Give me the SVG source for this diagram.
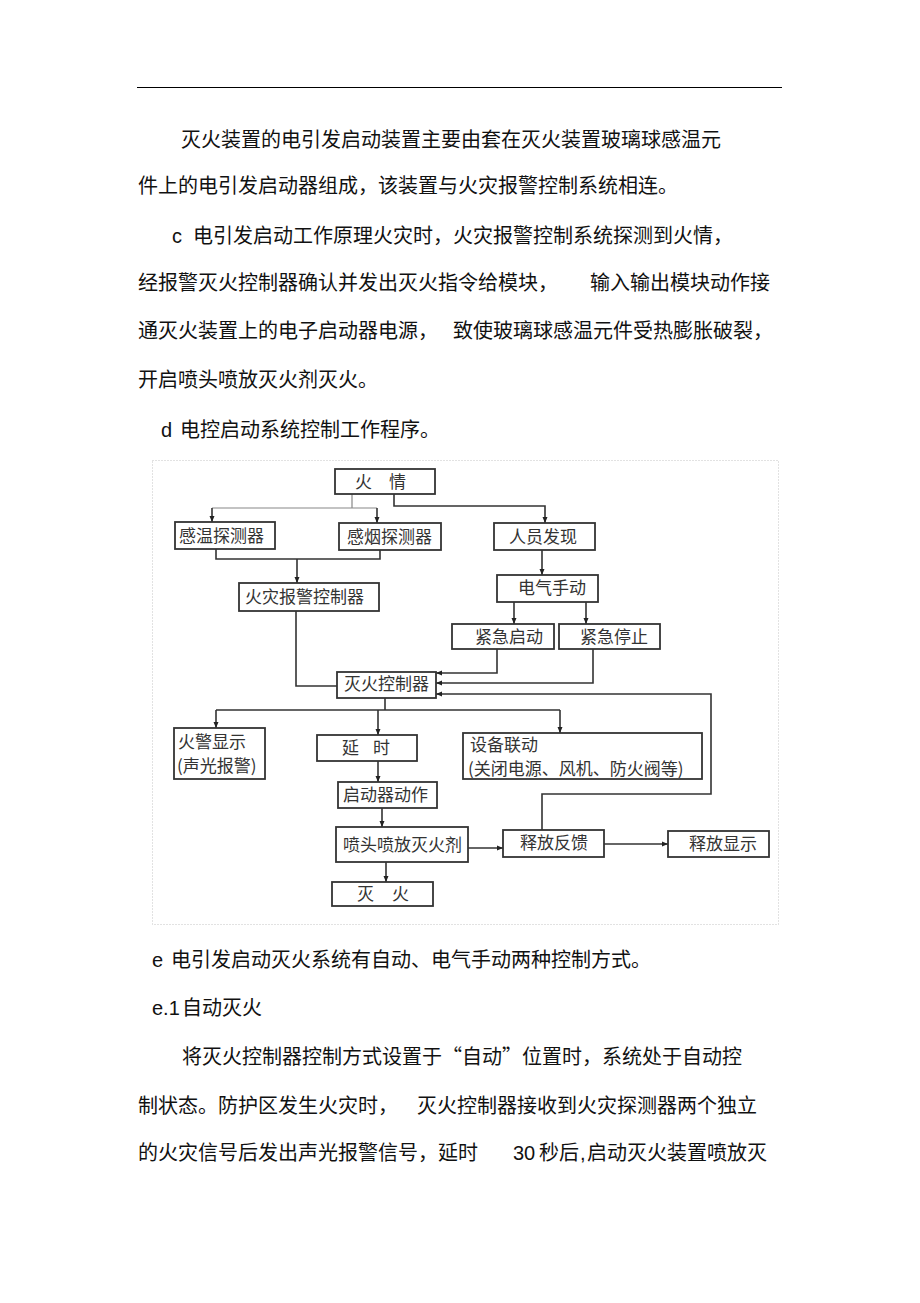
<svg xmlns="http://www.w3.org/2000/svg" width="920" height="1303" viewBox="0 0 920 1303">
<defs>
<style>
.body{font-family:"Noto Sans CJK SC","Liberation Sans",sans-serif;font-size:20px;fill:#111;}
.lat{font-family:"Liberation Sans","Noto Sans CJK SC",sans-serif;font-size:20px;fill:#111;}
.box rect{fill:#fff;stroke:#333;stroke-width:1.8;}
.box text{font-family:"Noto Sans CJK SC",sans-serif;font-size:17px;fill:#333;}
.conn path{fill:none;stroke:#333;stroke-width:1.6;}
.conn path.a{marker-end:url(#arr);}
.conn path.faint{stroke:#888;stroke-width:1.2;}
</style>
<marker id="arr" markerUnits="userSpaceOnUse" markerWidth="6" markerHeight="6" refX="6" refY="3" orient="auto">
<path d="M0,0.5 L6,3 L0,5.5 Z" fill="#222"/>
</marker>
</defs>
<rect width="920" height="1303" fill="#fff"/>
<line x1="137" y1="87.5" x2="782" y2="87.5" stroke="#000" stroke-width="1"/>

<g id="para-top">
<text class="body" x="181" y="147">灭火装置的电引发启动装置主要由套在灭火装置玻璃球感温元</text>
<text class="body" x="138" y="193">件上的电引发启动器组成，该装置与火灾报警控制系统相连。</text>
<text class="lat" x="172" y="243">c</text>
<text class="body" x="193" y="243">电引发启动工作原理火灾时，火灾报警控制系统探测到火情，</text>
<text class="body" x="138" y="290">经报警灭火控制器确认并发出灭火指令给模块，</text>
<text class="body" x="590" y="290">输入输出模块动作接</text>
<text class="body" x="138" y="338">通灭火装置上的电子启动器电源，</text>
<text class="body" x="453" y="338">致使玻璃球感温元件受热膨胀破裂，</text>
<text class="body" x="138" y="387">开启喷头喷放灭火剂灭火。</text>
<text class="lat" x="161" y="437">d</text>
<text class="body" x="180" y="437">电控启动系统控制工作程序。</text>
</g>

<rect x="152.5" y="460.5" width="626" height="464" fill="none" stroke="#c4c4c4" stroke-width="1" stroke-dasharray="1 2"/>

<g id="connectors" class="conn">
<path class="faint" d="M352,494 V508 M212,508 H377"/>
<path class="a" d="M212,508 V522"/>
<path class="a" d="M377,508 V523"/>
<path class="a" d="M394,494 V506 H545 V523"/>
<path d="M216,549 V559 H380 V550"/>
<path class="a" d="M297,559 V583"/>
<path d="M296,611 V686 H337"/>
<path class="a" d="M542,550 V575"/>
<path class="a" d="M514,602 V624"/>
<path class="a" d="M586,602 V624"/>
<path class="a" d="M497,649 V673 H436"/>
<path class="a" d="M593,649 V683 H436"/>
<path class="a" d="M542,830 V794 H711 V694 H436"/>
<path d="M385,698 V710 M216,710 H560"/>
<path class="a" d="M216,710 V728"/>
<path class="a" d="M378,710 V735"/>
<path class="a" d="M560,710 V733"/>
<path class="a" d="M378,761 V782"/>
<path class="a" d="M382,808 V827"/>
<path class="a" d="M386,862 V882"/>
<path class="a" d="M468,848 H503"/>
<path class="a" d="M604,844 H668"/>
</g>

<g id="n-huoqing" class="box"><rect x="335" y="469" width="100" height="25"/><text x="355" y="488">火　情</text></g>
<g id="n-ganwen" class="box"><rect x="175" y="522" width="100" height="27"/><text x="179" y="542">感温探测器</text></g>
<g id="n-ganyan" class="box"><rect x="339" y="523" width="102" height="27"/><text x="347" y="543">感烟探测器</text></g>
<g id="n-renyuan" class="box"><rect x="494" y="523" width="101" height="27"/><text x="509" y="543">人员发现</text></g>
<g id="n-huozai" class="box"><rect x="239" y="583" width="140" height="28"/><text x="245" y="603">火灾报警控制器</text></g>
<g id="n-dianqi" class="box"><rect x="497" y="575" width="101" height="27"/><text x="518" y="594">电气手动</text></g>
<g id="n-jjqd" class="box"><rect x="452" y="624" width="102" height="25"/><text x="475" y="643">紧急启动</text></g>
<g id="n-jjtz" class="box"><rect x="559" y="624" width="101" height="25"/><text x="580" y="643">紧急停止</text></g>
<g id="n-mhkzq" class="box"><rect x="337" y="672" width="99" height="26"/><text x="344" y="690">灭火控制器</text></g>
<g id="n-hjxs" class="box"><rect x="174" y="728" width="91" height="51"/><text x="178" y="748">火警显示</text><text x="177" y="772">(声光报警)</text></g>
<g id="n-yanshi" class="box"><rect x="317" y="735" width="100" height="26"/><text x="342" y="754">延</text><text x="373" y="754">时</text></g>
<g id="n-sblw" class="box"><rect x="463" y="733" width="239" height="46"/><text x="470" y="751">设备联动</text><text x="468" y="775">(关闭电源、风机、防火阀等)</text></g>
<g id="n-qdqdz" class="box"><rect x="338" y="782" width="99" height="26"/><text x="343" y="801">启动器动作</text></g>
<g id="n-pentou" class="box"><rect x="336" y="827" width="132" height="35"/><text x="343" y="851">喷头喷放灭火剂</text></g>
<g id="n-miehuo" class="box"><rect x="332" y="882" width="101" height="24"/><text x="357" y="900">灭</text><text x="392" y="900">火</text></g>
<g id="n-sffk" class="box"><rect x="503" y="830" width="101" height="27"/><text x="520" y="849">释放反馈</text></g>
<g id="n-sfxs" class="box"><rect x="668" y="831" width="101" height="26"/><text x="689" y="850">释放显示</text></g>

<g id="para-bottom">
<text class="lat" x="152" y="967">e</text>
<text class="body" x="171" y="967">电引发启动灭火系统有自动、电气手动两种控制方式。</text>
<text class="lat" x="152" y="1015">e.1</text>
<text class="body" x="182" y="1015">自动灭火</text>
<text class="body" x="182" y="1064">将灭火控制器控制方式设置于“自动”位置时，系统处于自动控</text>
<text class="body" x="138" y="1113">制状态。防护区发生火灾时，</text>
<text class="body" x="417" y="1113">灭火控制器接收到火灾探测器两个独立</text>
<text class="body" x="138" y="1160">的火灾信号后发出声光报警信号，延时</text>
<text class="lat" x="513" y="1160">30</text>
<text class="body" x="539" y="1160">秒后</text>
<text class="lat" x="580" y="1160">,</text>
<text class="body" x="587" y="1160">启动灭火装置喷放灭</text>
</g>
</svg>
